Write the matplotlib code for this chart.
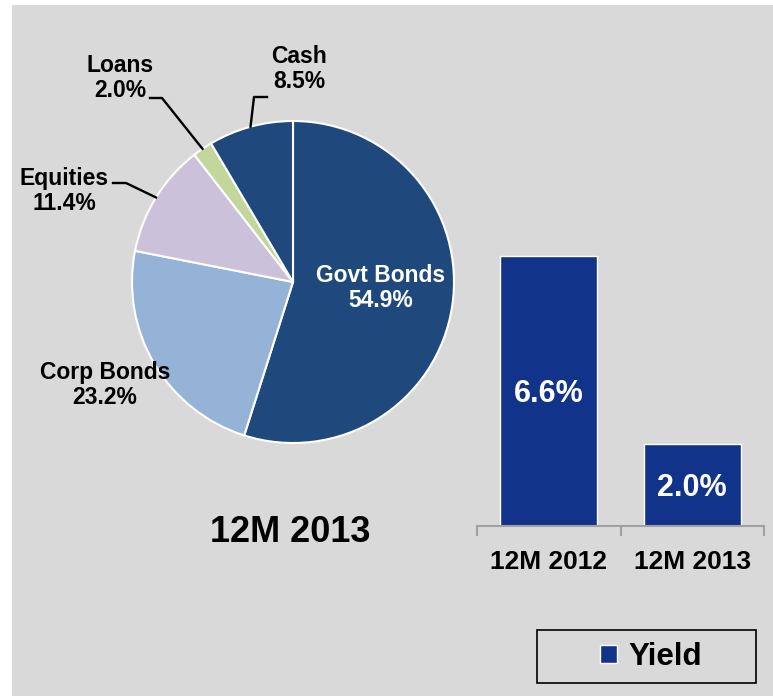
import matplotlib.pyplot as plt
from matplotlib.patches import Rectangle, Patch
import numpy as np

plt.rcParams['font.family'] = ['Liberation Sans', 'DejaVu Sans']
plt.rcParams['font.weight'] = 'bold'

# portfolio mix 12M 2013
segmenti = ['Govt Bonds', 'Corp Bonds', 'Equities', 'Loans', 'Cash']
deleži = [54.9, 23.2, 11.4, 2.0, 8.5]
barve_pita = ['#1f497d', '#95b3d7', '#ccc1da', '#c3d69b', '#1f497d']

# yield by period
obdobja = ['12M 2012', '12M 2013']
donos = [6.6, 2.0]
barva_stolpec = '#12338a'

W, H = 773, 696
fig = plt.figure(figsize=(W / 100, H / 100), dpi=100, facecolor='white')
fig.patches.append(Rectangle((12 / W, 0), 761 / W, 691 / H, transform=fig.transFigure,
                             facecolor='#d9d9d9', edgecolor='none', zorder=-10))

# --- pita ---
cx, cy, r = 293, 282, 161
ax1 = fig.add_axes([(cx - r) / W, (H - cy - r) / H, 2 * r / W, 2 * r / H])
ax1.set_facecolor('none')
klini, _ = ax1.pie(deleži, colors=barve_pita, startangle=90, counterclock=False,
                   wedgeprops=dict(edgecolor='white', linewidth=1.5))
ax1.set_xlim(-1, 1)
ax1.set_ylim(-1, 1)
ax1.axis('off')


def px(x, y):
    return (x - cx) / r, (cy - y) / r


def sredina(k):
    kot = np.deg2rad((klini[k].theta1 + klini[k].theta2) / 2)
    return np.cos(kot), np.sin(kot)


pisava = dict(fontsize=16.5, fontweight='bold', ha='center', va='center',
              multialignment='center', linespacing=1.12)

ax1.text(*px(381, 288), f'{segmenti[0]}\n{deleži[0]:.1f}%', color='white', **pisava)
ax1.text(*px(105, 385), f'{segmenti[1]}\n{deleži[1]:.1f}%', color='black', **pisava)

# oznake s povezovalnimi crtami
oznake = [(2, (64, 191), [(113, 183), (126, 183)]),
          (3, (120, 78), [(150, 98), (162, 98)]),
          (4, (299, 69), [(267, 97), (254, 97)])]
for k, poz, tocke in oznake:
    ax1.text(*px(*poz), f'{segmenti[k]}\n{deleži[k]:.1f}%', color='black', **pisava)
    xs = [px(*t)[0] for t in tocke] + [sredina(k)[0]]
    ys = [px(*t)[1] for t in tocke] + [sredina(k)[1]]
    ax1.plot(xs, ys, color='black', linewidth=1.7, clip_on=False)

fig.text(290 / W, 1 - 532 / H, '12M 2013', fontsize=26, fontweight='bold',
         ha='center', va='center')

# --- stolpci ---
y0 = 526
enota = (y0 - 256) / donos[0]
ax2 = fig.add_axes([477 / W, (H - y0) / H, 287 / W, 8 * enota / H])
ax2.set_facecolor('none')
x = np.arange(len(obdobja))
stolpci = ax2.bar(x, donos, width=0.676, color=barva_stolpec, edgecolor='white', linewidth=1)
for xi, v in zip(x, donos):
    ax2.text(xi, v / 2 - 0.08, f'{v:.1f}%', color='white', fontsize=22,
             fontweight='bold', ha='center', va='center')
ax2.set_xlim(-0.5, 1.5)
ax2.set_ylim(0, 8)
for s in ['top', 'left', 'right']:
    ax2.spines[s].set_visible(False)
ax2.spines['bottom'].set_color('#a0a0a0')
ax2.spines['bottom'].set_linewidth(1.5)
ax2.set_yticks([])
ax2.set_xticks(x)
ax2.set_xticklabels(obdobja, fontsize=19, fontweight='bold')
ax2.tick_params(axis='x', which='major', length=0, pad=17)
ax2.set_xticks([-0.5, 0.5, 1.5], minor=True)
ax2.tick_params(axis='x', which='minor', length=7, width=1.5, color='#a0a0a0')

# legenda
fig.patches.append(Rectangle((537 / W, 1 - 683 / H), 219 / W, 53 / H, transform=fig.transFigure,
                             facecolor='none', edgecolor='black', linewidth=1.2))
fig.legend([Patch(facecolor=barva_stolpec, edgecolor='white')], ['Yield'],
           loc='center', bbox_to_anchor=(651 / W, 1 - 657 / H), frameon=False,
           prop=dict(size=22.5, weight='bold'), handlelength=0.55, handleheight=0.55,
           handletextpad=0.35, borderpad=0)

fig.savefig('out.png', dpi=100, facecolor='white')
